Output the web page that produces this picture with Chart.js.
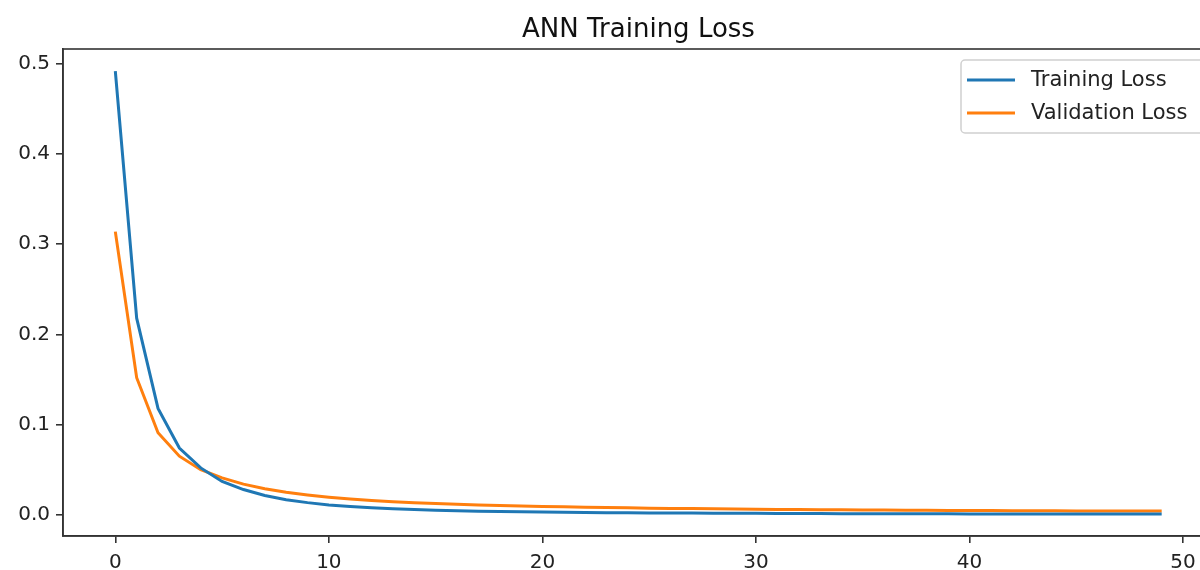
<!DOCTYPE html>
<html>
<head>
<meta charset="utf-8">
<script src="https://cdn.jsdelivr.net/npm/chart.js@4.4.1/dist/chart.umd.min.js"></script>
<style>
    html, body { margin: 0; padding: 0; background: #fff; overflow: hidden; }
    #wrap { width: 1230px; height: 570px; position: relative; }
</style>
</head>
<body>
<div id="wrap"><canvas id="chart"></canvas></div>
<script>
const chartTitle = 'ANN Training Loss'
const seriesNames = ['Training Loss', 'Validation Loss']

const epochs = [
    0, 1, 2, 3, 4, 5, 6, 7, 8, 9,
    10, 11, 12, 13, 14, 15, 16, 17, 18, 19,
    20, 21, 22, 23, 24, 25, 26, 27, 28, 29,
    30, 31, 32, 33, 34, 35, 36, 37, 38, 39,
    40, 41, 42, 43, 44, 45, 46, 47, 48, 49
]

const trainingLoss = [
    0.492, 0.218, 0.118, 0.074, 0.052, 0.037, 0.028, 0.0215, 0.0168, 0.0135,
    0.0110, 0.0092, 0.0078, 0.0067, 0.0058, 0.0051, 0.0045, 0.0040, 0.0036, 0.0033,
    0.0030, 0.0028, 0.0026, 0.0024, 0.0022, 0.0021, 0.0020, 0.0019, 0.0018, 0.0017,
    0.0016, 0.0015, 0.0015, 0.0014, 0.0013, 0.0013, 0.0012, 0.0012, 0.0011, 0.0011,
    0.0010, 0.0010, 0.0010, 0.0009, 0.0009, 0.0009, 0.0008, 0.0008, 0.0008, 0.0008
]

const validationLoss = [
    0.314, 0.152, 0.091, 0.065, 0.050, 0.041, 0.034, 0.029, 0.025, 0.022,
    0.0195, 0.0175, 0.0158, 0.0145, 0.0134, 0.0124, 0.0116, 0.0109, 0.0103, 0.0097,
    0.0092, 0.0088, 0.0084, 0.0080, 0.0077, 0.0074, 0.0071, 0.0069, 0.0066, 0.0064,
    0.0062, 0.0060, 0.0058, 0.0057, 0.0055, 0.0054, 0.0052, 0.0051, 0.0050, 0.0049,
    0.0048, 0.0047, 0.0046, 0.0045, 0.0044, 0.0043, 0.0043, 0.0042, 0.0041, 0.0041
]

const xTicks = [0, 10, 20, 30, 40, 50]
const yTicks = [0.0, 0.1, 0.2, 0.3, 0.4, 0.5]

const colors = ['#1f77b4', '#ff7f0e']
const font = 'DejaVu Sans'
const axisColor = '#333333'

// matplotlib-like frame, title and in-axes legend
const decorations = {
    id: 'decorations',
    afterDraw(chart) {
        const ctx = chart.ctx
        const a = chart.chartArea
        ctx.save()
        ctx.strokeStyle = axisColor
        ctx.lineWidth = 1.6
        ctx.strokeRect(a.left, a.top, a.right - a.left, a.bottom - a.top)

        ctx.fillStyle = '#111'
        ctx.font = '26px "' + font + '"'
        ctx.textAlign = 'center'
        ctx.textBaseline = 'alphabetic'
        ctx.fillText(chartTitle, (a.left + a.right) / 2, 37)

        // legend box
        const bx = 961, by = 60, bw = 243, bh = 73
        ctx.fillStyle = 'rgba(255,255,255,0.8)'
        ctx.strokeStyle = '#d0d0d0'
        ctx.lineWidth = 1.5
        ctx.beginPath()
        ctx.roundRect(bx, by, bw, bh, 4)
        ctx.fill()
        ctx.stroke()

        ctx.font = '21px "' + font + '"'
        ctx.textAlign = 'left'
        ctx.textBaseline = 'middle'
        chart.data.datasets.forEach((ds, i) => {
            const y = 80 + i * 33
            ctx.strokeStyle = ds.borderColor
            ctx.lineWidth = 3
            ctx.beginPath()
            ctx.moveTo(967, y)
            ctx.lineTo(1015, y)
            ctx.stroke()
            ctx.fillStyle = '#222'
            ctx.fillText(ds.label, 1031, y + 1)
        })
        ctx.restore()
    }
}

const ctx = document.getElementById('chart')
new Chart(ctx, {
    type: 'line',
    data: {
        datasets: [{
            label: seriesNames[0],
            data: epochs.map((e, i) => ({ x: e, y: trainingLoss[i] })),
            borderColor: colors[0],
            borderWidth: 3,
            pointRadius: 0,
            tension: 0
        }, {
            label: seriesNames[1],
            data: epochs.map((e, i) => ({ x: e, y: validationLoss[i] })),
            borderColor: colors[1],
            borderWidth: 3,
            pointRadius: 0,
            tension: 0
        }]
    },
    options: {
        responsive: true,
        maintainAspectRatio: false,
        animation: false,
        layout: { padding: { top: 49, right: 16, left: 0, bottom: 0 } },
        plugins: {
            legend: { display: false },
            title: { display: false },
            tooltip: { enabled: false }
        },
        scales: {
            x: {
                type: 'linear',
                min: -2.45,
                max: 51.45,
                afterBuildTicks: axis => { axis.ticks = xTicks.map(v => ({ value: v })) },
                afterFit: scale => { scale.height = 34 },
                grid: { drawOnChartArea: false, drawTicks: true, tickLength: 7, color: axisColor, lineWidth: 1.6 },
                border: { display: true, color: axisColor, width: 1.6 },
                ticks: {
                    padding: 8,
                    maxRotation: 0,
                    color: '#222',
                    font: { family: font, size: 20 },
                    callback: v => String(v)
                }
            },
            y: {
                type: 'linear',
                min: -0.0235,
                max: 0.5165,
                afterBuildTicks: axis => { axis.ticks = yTicks.map(v => ({ value: v })) },
                afterFit: scale => { scale.width = 63 },
                grid: { drawOnChartArea: false, drawTicks: true, tickLength: 7, color: axisColor, lineWidth: 1.6 },
                border: { display: true, color: axisColor, width: 1.6 },
                ticks: {
                    padding: 6,
                    color: '#222',
                    font: { family: font, size: 20 },
                    callback: v => v.toFixed(1)
                }
            }
        }
    },
    plugins: [decorations]
})
</script>
</body>
</html>
